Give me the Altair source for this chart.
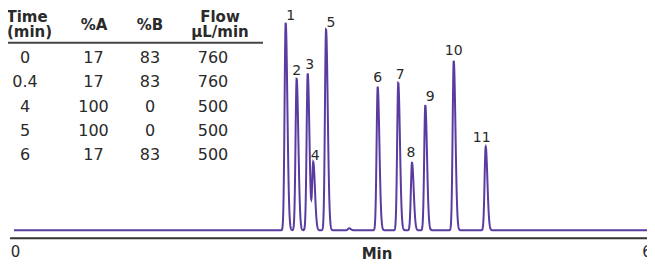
import altair as alt
import numpy as np
import pandas as pd

# ---------------- data ----------------
# gradient table
table_time = ["0", "0.4", "4", "5", "6"]
table_a = ["17", "17", "100", "100", "17"]
table_b = ["83", "83", "0", "0", "83"]
table_flow = ["760", "760", "500", "500", "500"]
header_top = ["Time", "", "", "Flow"]
header_bottom = ["(min)", "%A", "%B", "µL/min"]

# chromatogram peaks (retention time in min, height in arbitrary units)
peak_ids = ["1", "2", "3", "4", "5", "6", "7", "8", "9", "10", "11"]
peak_times = [2.551, 2.654, 2.758, 2.810, 2.930, 3.415, 3.608, 3.737, 3.862, 4.129, 4.429]
peak_heights = [207.6, 151.6, 157.0, 67.6, 201.0, 143.6, 147.6, 67.6, 125.3, 169.6, 83.6]
minor_times = [3.146]
minor_heights = [2.0]
axis_ticks = [0, 6]

# ---------------- layout / style ----------------
W, H = 639, 253
PX_PER_MIN = 106.5
X_DOM = [-6 / PX_PER_MIN, (W - 6) / PX_PER_MIN]
Y_DOM = [-30.7, 222.3]
LINE_COLOR = "#5a3ca0"
TEXT_COLOR = "#2a2a2a"
FONT = "DejaVu Sans"
SIG_L = 1.1 / PX_PER_MIN
SIG_R = 1.7 / PX_PER_MIN
label_dx = [5, 0, 2, 2, 5, 0, 2, -1, 5, 0, -4]
label_dy = [7, 8, 8, 7, 6, 9, 8, 10, 8, 10, 9]
tick_dx = [1.5, -6]

# ---------------- trace built from peak table ----------------
t = np.linspace(0, 6, 4001)
sig = np.zeros_like(t)
for tc, h in zip(peak_times + minor_times, peak_heights + minor_heights):
    s = np.where(t < tc, SIG_L, SIG_R)
    sig += h * np.exp(-0.5 * ((t - tc) / s) ** 2)
trace = pd.DataFrame({"t": t, "v": sig})

labels = pd.DataFrame({
    "id": peak_ids,
    "lt": [tc + dx / PX_PER_MIN for tc, dx in zip(peak_times, label_dx)],
    "lv": [h + dy for h, dy in zip(peak_heights, label_dy)],
})
ticks = pd.DataFrame({
    "tick": axis_ticks,
    "tt": [tk + dx / PX_PER_MIN for tk, dx in zip(axis_ticks, tick_dx)],
})

xs = alt.Scale(domain=X_DOM, nice=False, zero=False)
ys = alt.Scale(domain=Y_DOM, nice=False, zero=False)

line = alt.Chart(trace).mark_line(color=LINE_COLOR, strokeWidth=2, clip=True).encode(
    x=alt.X("t:Q", scale=xs, axis=None),
    y=alt.Y("v:Q", scale=ys, axis=None),
)

peak_text = alt.Chart(labels).mark_text(
    font=FONT, fontSize=14, color=TEXT_COLOR, baseline="middle", align="center"
).encode(
    x=alt.X("lt:Q", scale=xs, axis=None),
    y=alt.Y("lv:Q", scale=ys, axis=None),
    text="id:N",
)

axis_line = alt.Chart(pd.DataFrame({"a": [0]})).mark_rule(color="#333333", strokeWidth=2).encode(
    x=alt.value(2), x2=alt.value(W), y=alt.value(230.3)
)

tick_text = alt.Chart(ticks).mark_text(
    font=FONT, fontSize=15, color=TEXT_COLOR, baseline="alphabetic", align="center"
).encode(
    x=alt.X("tt:Q", scale=xs, axis=None),
    y=alt.value(249),
    text="tick:Q",
)

x_title = alt.Chart(pd.DataFrame({"a": ["Min"]})).mark_text(
    font=FONT, fontSize=15, fontWeight="bold", color=TEXT_COLOR, baseline="alphabetic", align="center"
).encode(x=alt.value(369), y=alt.value(250.5), text="a:N")

# table
col_x = [17, 85.5, 142, 205]
head_x = [19, 86, 142, 212]
row_y = [55.3, 79.3, 103.5, 127.7, 152]
cells = []
for r, row in enumerate(zip(table_time, table_a, table_b, table_flow)):
    for c, val in enumerate(row):
        cells.append({"txt": val, "px": col_x[c], "py": row_y[r]})
cells = pd.DataFrame(cells)
heads = []
for c in range(4):
    if header_top[c]:
        heads.append({"txt": header_top[c], "px": head_x[c], "py": 13.5})
        heads.append({"txt": header_bottom[c], "px": head_x[c] + (2.5 if c == 0 else 0), "py": 29.3})
    else:
        heads.append({"txt": header_bottom[c], "px": head_x[c], "py": 22})
heads = pd.DataFrame(heads)

cell_text = alt.Chart(cells).mark_text(
    font=FONT, fontSize=16, color=TEXT_COLOR, baseline="alphabetic", align="center"
).encode(
    x=alt.X("px:Q", scale=None, axis=None),
    y=alt.Y("py:Q", scale=None, axis=None),
    text="txt:N",
)
head_text = alt.Chart(heads).mark_text(
    font=FONT, fontSize=15, fontWeight="bold", color=TEXT_COLOR, baseline="alphabetic", align="center"
).encode(
    x=alt.X("px:Q", scale=None, axis=None),
    y=alt.Y("py:Q", scale=None, axis=None),
    text="txt:N",
)
table_rule = alt.Chart(pd.DataFrame({"a": [0]})).mark_rule(color="#444444", strokeWidth=2).encode(
    x=alt.value(0), x2=alt.value(255), y=alt.value(34.7)
)

chart = alt.layer(
    line, peak_text, axis_line, tick_text, x_title, cell_text, head_text, table_rule
).resolve_scale(x="independent", y="independent").properties(
    width=W, height=H, padding=0, autosize=alt.AutoSizeParams(type="none")
).configure_view(stroke=None)

chart.save("out.html", embed_options={"renderer": "svg", "actions": False})
